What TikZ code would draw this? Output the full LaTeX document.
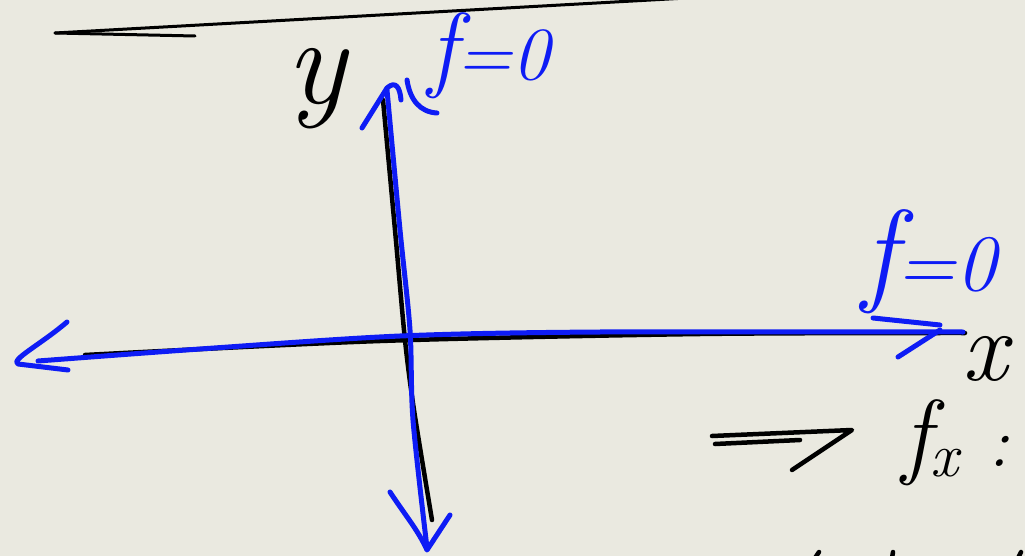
\documentclass[tikz,border=0pt]{standalone}
\usepackage{fontspec}
\definecolor{paper}{HTML}{EAE9E0}
\definecolor{pen}{RGB}{14,28,245}
\begin{document}
\begin{tikzpicture}[x=1pt,y=-1pt,
  blk/.style={line width=4.5pt,line cap=round,line join=round,black},
  blu/.style={line width=5pt,line cap=round,line join=round,pen},
  lbl/.style={inner sep=0pt,anchor=base west}]
\fill[paper] (0,0) rectangle (1025,556);
\useasboundingbox (0,0) rectangle (1025,556);
% top stroke
\draw[blk,line width=3pt] (55,33) -- (705,-3);
\draw[blk,line width=3pt] (55,33) -- (195,36);
% black axes
\draw[blk] plot[smooth] coordinates {(383,100) (395,230) (405,340) (414,410) (432,520)};
\draw[blk] plot[smooth] coordinates {(85,355) (380,341) (700,334) (965,333)};
% blue axes
\draw[blu] plot[smooth] coordinates {(387,90) (400,230) (410,330) (413,420) (427,548)};
\draw[blu] (362,128) -- (387,88);
\draw[blu] (387,88) .. controls (396,80) and (400,88) .. (401,100);
\draw[blu] (407,80) .. controls (410,100) and (420,112) .. (437,113);
\draw[blu] (390,492) .. controls (405,515) and (418,530) .. (427,550) -- (450,515);
\draw[blu] plot[smooth] coordinates {(38,361) (200,349) (400,336) (600,332) (963,332)};
\draw[blu] (67,322) .. controls (40,345) and (10,360) .. (18,364) -- (68,370);
\draw[blu] (873,318) -- (940,325);
\draw[blu] (898,357) -- (940,330);
% labels
\node[lbl] (ylab) at (286,104) {\fontsize{125}{125}\selectfont\itshape y};
\node[lbl,pen] (ftop) at (428,80) {\itshape{\fontsize{95}{95}\selectfont f}{\fontsize{75}{75}\selectfont =0}};
\node[lbl,pen] (fright) at (862,290) {\itshape{\fontsize{115}{115}\selectfont f}{\fontsize{80}{80}\selectfont =0}};
\node[lbl] (xlab) at (962,380) {\fontsize{100}{100}\selectfont\itshape x};
\node[lbl] (fx) at (902,466) {\itshape{\fontsize{95}{95}\selectfont f}\raisebox{-10pt}{\fontsize{62}{62}\selectfont x}\hspace{30pt}{\fontsize{70}{70}\selectfont :}};
% implies arrow
\draw[blk] (712,436) -- (852,430) -- (792,470);
\draw[blk] (715,444) -- (800,440);
% cut-off marks at bottom
\draw[blk] (815,558) -- (819,552);
\draw[blk] (892,558) -- (893,552);
\draw[blk] (1018,558) -- (1021,552);
\end{tikzpicture}
\end{document}
